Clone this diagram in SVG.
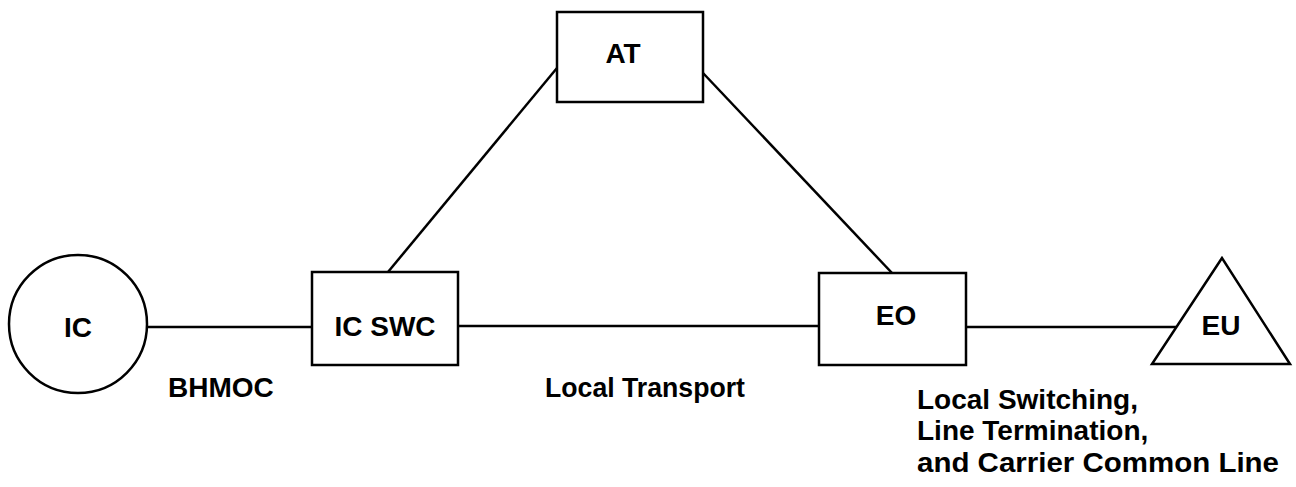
<svg xmlns="http://www.w3.org/2000/svg" width="1296" height="487" viewBox="0 0 1296 487">
<style>
.n{fill:#fff;stroke:#000;stroke-width:2.5}
.c{stroke:#000;stroke-width:2.5;fill:none}
.t{font-family:"Liberation Sans",Arial,Helvetica,sans-serif;font-weight:bold;font-size:28px;fill:#000}
.m{text-anchor:middle}
</style>
<rect width="1296" height="487" fill="#fff"/>
<g id="connectors">
<line class="c" x1="147" y1="327" x2="312" y2="327"/>
<line class="c" x1="458" y1="326" x2="819" y2="326"/>
<line class="c" x1="966" y1="327" x2="1176" y2="327"/>
<line class="c" x1="557" y1="68" x2="388" y2="272"/>
<line class="c" x1="703" y1="73" x2="892" y2="273"/>
</g>
<g id="IC">
<circle class="n" cx="78" cy="324" r="69"/>
<text class="t m" x="78" y="337">IC</text>
</g>
<g id="ICSWC">
<rect class="n" x="312" y="272" width="146" height="93"/>
<text class="t m" x="385" y="336">IC SWC</text>
</g>
<g id="AT">
<rect class="n" x="557" y="12" width="146" height="90"/>
<text class="t m" x="623" y="63">AT</text>
</g>
<g id="EO">
<rect class="n" x="819" y="273" width="147" height="92"/>
<text class="t m" x="896" y="325">EO</text>
</g>
<g id="EU">
<polygon class="n" points="1222,258 1152,364 1290,364"/>
<text class="t m" x="1221" y="335">EU</text>
</g>
<g id="labels">
<text class="t" x="168" y="397">BHMOC</text>
<text class="t" x="545" y="397" textLength="200" lengthAdjust="spacingAndGlyphs">Local Transport</text>
<text class="t" x="917" y="409">Local Switching,</text>
<text class="t" x="917" y="440">Line Termination,</text>
<text class="t" x="917" y="472" textLength="362" lengthAdjust="spacingAndGlyphs">and Carrier Common Line</text>
</g>
</svg>
